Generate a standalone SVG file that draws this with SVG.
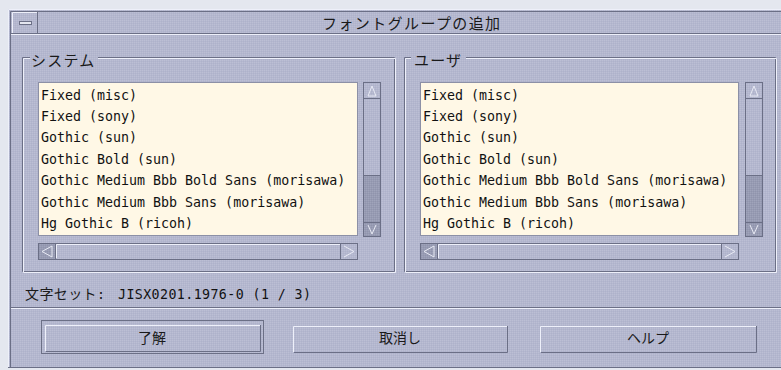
<svg xmlns="http://www.w3.org/2000/svg" width="781" height="370" viewBox="0 0 781 370">
<defs>
<pattern id="dither" width="2" height="2" patternUnits="userSpaceOnUse">
<rect width="2" height="2" fill="#b4b7cf"/>
<rect width="1" height="1" fill="#bcbfd4"/>
<rect x="1" y="1" width="1" height="1" fill="#aeb2ca"/>
</pattern>
<pattern id="ditherDark" width="2" height="2" patternUnits="userSpaceOnUse">
<rect width="2" height="2" fill="#979bb3"/>
<rect width="1" height="1" fill="#a0a4ba"/>
<rect x="1" y="1" width="1" height="1" fill="#9094ac"/>
</pattern>
</defs>
<style>
.jp{font-family:"Noto Sans CJK JP","Noto Sans CJK SC",sans-serif;fill:#1a1a1a}
.mono{font-family:"DejaVu Sans Mono","Liberation Mono",monospace;font-size:13.3px;fill:#111}
.dk{stroke:#6b6f86;stroke-width:1;fill:none}
.lt{stroke:#eef0fa;stroke-width:1;fill:none}
.list{fill:#fff8e6;stroke:#8c90a6;stroke-width:1}
.sb{fill:url(#dither);stroke:#6b6f86;stroke-width:1}
.sbd{fill:url(#ditherDark);stroke:#6b6f86;stroke-width:1}
.arr{fill:none;stroke:#e8eaf4;stroke-width:1}
.btn{fill:url(#dither)}
</style>
<rect width="781" height="370" fill="#e4e7ef"/>
<g id="window">
<rect x="8" y="9" width="773" height="359" fill="url(#dither)"/>
<path class="lt" d="M8.5 368 V9.5 H781"/>
<path class="dk" d="M10.5 368 V11.5 H781"/>
<path class="dk" d="M8 367.5 H781"/>
</g>
<g id="titlebar">
<path class="dk" d="M11 33.5 H781"/>
<path class="lt" d="M11 34.5 H781"/>
<path class="lt" d="M12.5 33 V12.5 H37"/>
<path class="dk" d="M37.5 12 V33"/>
<rect x="19.5" y="21.5" width="12" height="3" fill="#e4e6f0" stroke="#6b6f86"/>
<text class="jp" x="322" y="28.5" font-size="15" letter-spacing="1.4">フォントグループの追加</text>
</g>
<g id="system-group">
<path class="dk" d="M30 57.5 H22.5 V271.5 H394.5 V57.5 H98"/>
<path class="lt" d="M30 58.5 H23.5 V272.5 H395.5 V58.5 H98"/>
<text class="jp" x="31" y="65.5" font-size="15" letter-spacing="1.2">システム</text>
<rect class="list" x="38.5" y="82.5" width="319" height="153"/>
<g class="mono">
<text x="41" y="99.5">Fixed (misc)</text>
<text x="41" y="120.9">Fixed (sony)</text>
<text x="41" y="142.3">Gothic (sun)</text>
<text x="41" y="163.7">Gothic Bold (sun)</text>
<text x="41" y="185.1">Gothic Medium Bbb Bold Sans (morisawa)</text>
<text x="41" y="206.5">Gothic Medium Bbb Sans (morisawa)</text>
<text x="41" y="227.9">Hg Gothic B (ricoh)</text>
</g>
<rect class="sb" x="363.5" y="82.5" width="17" height="16"/>
<path class="arr" d="M368 96 L372 86 L376 96 Z"/>
<rect class="sb" x="363.5" y="98.5" width="17" height="77"/>
<rect class="sbd" x="363.5" y="175.5" width="17" height="47"/>
<rect class="sbd" x="363.5" y="222.5" width="17" height="14"/>
<path class="arr" d="M368 225 L372 234 L376 225"/>
<rect class="sbd" x="38.5" y="243.5" width="17" height="16"/>
<path class="arr" d="M52 246 L42 251.5 L52 257 Z"/>
<rect class="sb" x="55.5" y="243.5" width="285" height="16"/>
<path class="lt" d="M56.5 258 V244.5 H340"/>
<rect class="sb" x="340.5" y="243.5" width="17" height="16"/>
<path class="arr" d="M344 246 L354 251.5 L344 257"/>
</g>
<g id="user-group">
<path class="dk" d="M411 57.5 H404.5 V271.5 H775.5 V57.5 H466"/>
<path class="lt" d="M411 58.5 H405.5 V272.5 H776.5 V58.5 H466"/>
<text class="jp" x="414" y="65.5" font-size="15" letter-spacing="1.2">ユーザ</text>
<rect class="list" x="420.5" y="82.5" width="318" height="153"/>
<g class="mono">
<text x="423" y="99.5">Fixed (misc)</text>
<text x="423" y="120.9">Fixed (sony)</text>
<text x="423" y="142.3">Gothic (sun)</text>
<text x="423" y="163.7">Gothic Bold (sun)</text>
<text x="423" y="185.1">Gothic Medium Bbb Bold Sans (morisawa)</text>
<text x="423" y="206.5">Gothic Medium Bbb Sans (morisawa)</text>
<text x="423" y="227.9">Hg Gothic B (ricoh)</text>
</g>
<rect class="sb" x="745.5" y="82.5" width="17" height="16"/>
<path class="arr" d="M750 96 L754 86 L758 96 Z"/>
<rect class="sb" x="745.5" y="98.5" width="17" height="77"/>
<rect class="sbd" x="745.5" y="175.5" width="17" height="47"/>
<rect class="sbd" x="745.5" y="222.5" width="17" height="14"/>
<path class="arr" d="M750 225 L754 234 L758 225"/>
<rect class="sbd" x="420.5" y="243.5" width="17" height="16"/>
<path class="arr" d="M434 246 L424 251.5 L434 257 Z"/>
<rect class="sb" x="437.5" y="243.5" width="284" height="16"/>
<path class="lt" d="M438.5 258 V244.5 H721"/>
<rect class="sb" x="721.5" y="243.5" width="17" height="16"/>
<path class="arr" d="M725 246 L735 251.5 L725 257"/>
</g>
<g id="charset">
<text class="jp" x="25" y="298.5" font-size="14" letter-spacing="0.4">文字セット<tspan font-family="DejaVu Sans Mono,monospace" font-size="13.3" letter-spacing="0">: </tspan><tspan class="mono" x="118">JISX0201.1976-0 (1 / 3)</tspan></text>
</g>
<g id="separator">
<path class="dk" d="M11 307.5 H781"/>
<path class="lt" d="M11 308.5 H781"/>
</g>
<g id="btn-ok">
<rect class="dk" x="41.5" y="320.5" width="222" height="33"/>
<rect class="btn" x="45" y="325" width="215" height="26"/>
<path class="lt" d="M45.5 351 V325.5 H260"/>
<path class="dk" d="M46 351.5 H260.5 V325"/>
<text class="jp" x="152" y="343" font-size="14" text-anchor="middle">了解</text>
</g>
<g id="btn-cancel">
<rect class="btn" x="293" y="326" width="214" height="26"/>
<path class="lt" d="M293.5 352 V326.5 H507"/>
<path class="dk" d="M294 352.5 H507.5 V326"/>
<text class="jp" x="400" y="343" font-size="14" text-anchor="middle">取消し</text>
</g>
<g id="btn-help">
<rect class="btn" x="540" y="326" width="216" height="26"/>
<path class="lt" d="M540.5 352 V326.5 H756"/>
<path class="dk" d="M541 352.5 H756.5 V326"/>
<text class="jp" x="648" y="343" font-size="14" text-anchor="middle">ヘルプ</text>
</g>
</svg>
